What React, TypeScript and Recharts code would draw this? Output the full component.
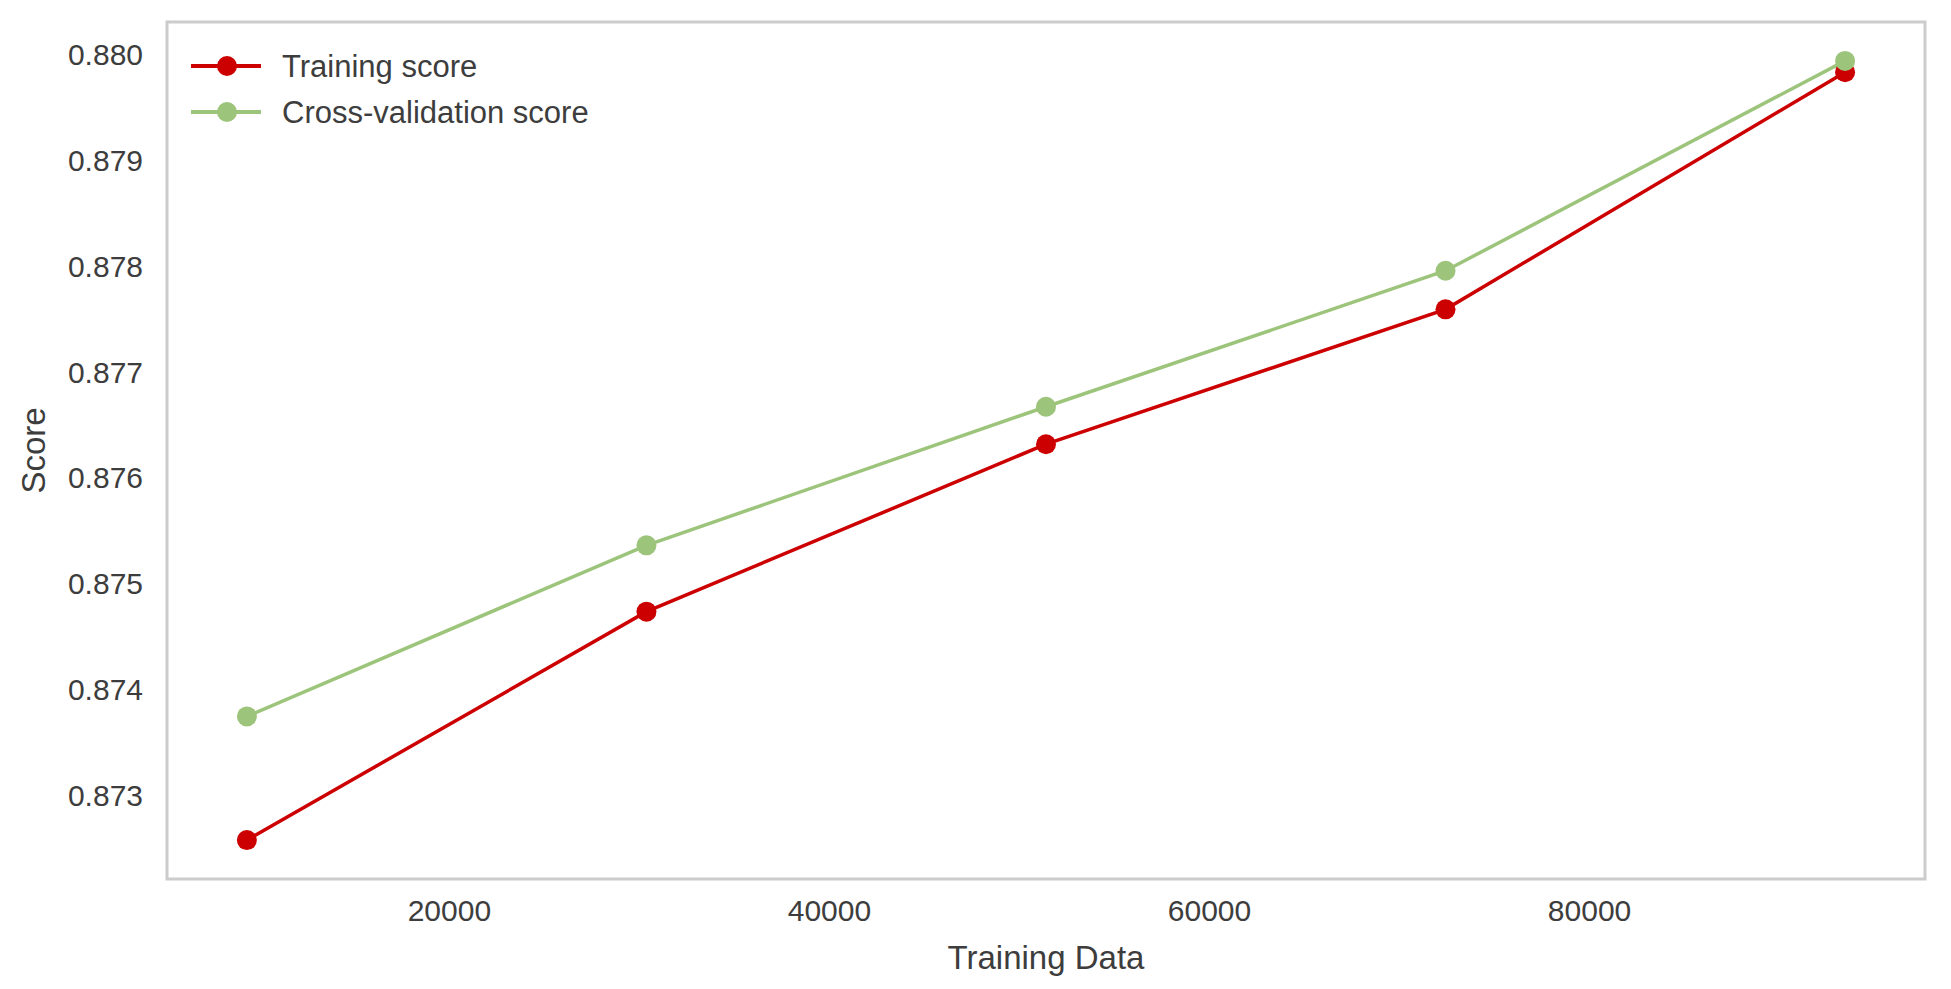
import React from 'react'
import { CartesianGrid, Legend, Line, LineChart, ReferenceArea, XAxis, YAxis } from 'recharts'

// training-set sizes used by the learning curve
const trainSizes = [9344, 30370, 51394, 72419, 93444]
const trainingScore = [0.872574, 0.874734, 0.876317, 0.877592, 0.879835]
const cvScore = [0.873743, 0.875361, 0.876671, 0.877957, 0.879941]
const seriesNames = ['Training score', 'Cross-validation score']

const xTicks = [20000, 40000, 60000, 80000]
const yTicks = [0.873, 0.874, 0.875, 0.876, 0.877, 0.878, 0.879, 0.88]

const xDomain: [number, number] = [5140, 97650]
const yDomain: [number, number] = [0.872206, 0.880309]

const RED = '#cc0000'
const GREEN = '#9dc47b'
const FONT = '"Liberation Sans", Arial, sans-serif'
const TEXT = '#3d3d3d'

const data = trainSizes.map((size, i) => ({
  size,
  train: trainingScore[i],
  cv: cvScore[i],
}))

function ScoreLabel(props: any) {
  const vb = props.viewBox || { x: 0, y: 0, width: 0, height: 0 }
  const x = vb.x + 33
  const y = vb.y + vb.height / 2
  return (
    <text
      x={x}
      y={y}
      transform={`rotate(-90 ${x} ${y})`}
      textAnchor="middle"
      dominantBaseline="central"
      fontSize={33}
      fontFamily={FONT}
      fill={TEXT}
    >
      Score
    </text>
  )
}

function LegendBox(props: any) {
  // keep plotting order (recharts sorts legend items by name)
  const items = [...(props.payload || [])].sort(
    (a: any, b: any) => seriesNames.indexOf(a.value) - seriesNames.indexOf(b.value)
  )
  return (
    <div style={{ fontFamily: FONT }}>
      {items.map((item: any) => (
        <div key={item.value} style={{ display: 'flex', alignItems: 'center', height: 46 }}>
          <svg width={70} height={24} style={{ display: 'block' }}>
            <line x1={0} y1={12} x2={70} y2={12} stroke={item.color} strokeWidth={4} />
            <circle cx={36} cy={12} r={10} fill={item.color} />
          </svg>
          <span style={{ marginLeft: 21, fontSize: 31, color: TEXT, lineHeight: '31px' }}>{item.value}</span>
        </div>
      ))}
    </div>
  )
}

export default function App() {
  return (
    <div style={{ position: 'absolute', left: 0, top: 0, width: 1951, height: 989, background: '#fff' }}>
      <LineChart width={1951} height={989} data={data} margin={{ top: 22, right: 26, bottom: 0, left: 0 }}>
        <CartesianGrid horizontal={false} vertical={false} />
        <XAxis
          dataKey="size"
          type="number"
          domain={xDomain}
          allowDataOverflow
          ticks={xTicks}
          axisLine={false}
          tickLine={false}
          tickSize={0}
          tickMargin={21}
          height={110}
          tick={{ fontSize: 30, fill: TEXT, fontFamily: FONT }}
          label={{ value: 'Training Data', position: 'insideBottom', offset: 20, fontSize: 33, fill: TEXT, fontFamily: FONT }}
        />
        <YAxis
          type="number"
          domain={yDomain}
          allowDataOverflow
          ticks={yTicks}
          width={167}
          axisLine={false}
          tickLine={false}
          tickSize={0}
          tickMargin={24}
          tickFormatter={(v: number) => v.toFixed(3)}
          tick={{ fontSize: 30, fill: TEXT, fontFamily: FONT }}
          label={<ScoreLabel />}
        />
        <ReferenceArea
          x1={xDomain[0]}
          x2={xDomain[1]}
          y1={yDomain[0]}
          y2={yDomain[1]}
          fill="none"
          stroke="#cccccc"
          strokeWidth={3}
          ifOverflow="visible"
        />
        <Legend
          layout="vertical"
          verticalAlign="middle"
          align="center"
          wrapperStyle={{ left: 191, top: 43, width: 'auto' }}
          content={<LegendBox />}
        />
        <Line
          name={seriesNames[0]}
          dataKey="train"
          stroke={RED}
          strokeWidth={3.5}
          dot={{ r: 10, fill: RED, stroke: 'none' }}
          activeDot={false}
          isAnimationActive={false}
        />
        <Line
          name={seriesNames[1]}
          dataKey="cv"
          stroke={GREEN}
          strokeWidth={3.5}
          dot={{ r: 10, fill: GREEN, stroke: 'none' }}
          activeDot={false}
          isAnimationActive={false}
        />
      </LineChart>
    </div>
  )
}
